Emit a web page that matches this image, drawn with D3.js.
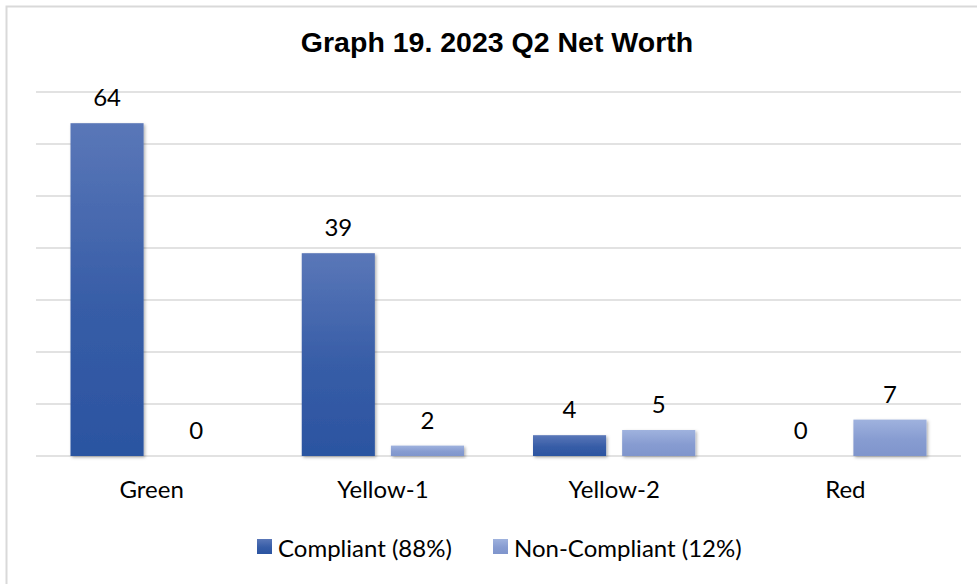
<!DOCTYPE html>
<html>
<head>
<meta charset="utf-8">
<script src="https://cdn.jsdelivr.net/npm/d3@7"></script>
<style>
  body { margin: 0; background: #fff; }
</style>
</head>
<body>
<script>
// chart data
var categories = ["Green", "Yellow-1", "Yellow-2", "Red"];
var seriesNames = ["Compliant (88%)", "Non-Compliant (12%)"];
var compliant = [64, 39, 4, 0];
var nonCompliant = [0, 2, 5, 7];
var yTicks = [0, 10, 20, 30, 40, 50, 60, 70];

var W = 977, H = 584;
var labelFont = "Lato, 'Open Sans', sans-serif";

var svg = d3.select("body").append("svg")
    .attr("width", W)
    .attr("height", H);

var defs = svg.append("defs");
function grad(id, top, bottom) {
    var g = defs.append("linearGradient").attr("id", id)
        .attr("x1", 0).attr("y1", 0).attr("x2", 0).attr("y2", 1);
    g.append("stop").attr("offset", "0%").attr("stop-color", top);
    g.append("stop").attr("offset", "55%").attr("stop-color", d3.interpolateRgb(top, bottom)(0.75));
    g.append("stop").attr("offset", "100%").attr("stop-color", bottom);
}
grad("gC", "#5a77b8", "#2b54a1");
grad("gN", "#9fb2de", "#7f95cc");

var shadow = defs.append("filter").attr("id", "shadow")
    .attr("x", "-20%").attr("y", "-20%").attr("width", "140%").attr("height", "140%");
shadow.append("feDropShadow")
    .attr("dx", 1.5).attr("dy", 1.5).attr("stdDeviation", 1.5)
    .attr("flood-color", "#000").attr("flood-opacity", 0.3);

// outer chart border (cut off on the right and bottom)
svg.append("path")
    .attr("d", "M6.5," + (H + 5) + "V6.5H" + (W + 5))
    .attr("fill", "none")
    .attr("stroke", "#d9d9d9")
    .attr("stroke-width", 2);

// title
svg.append("text")
    .attr("x", 497)
    .attr("y", 52)
    .attr("text-anchor", "middle")
    .attr("font-family", "'Liberation Sans', Arial, sans-serif")
    .attr("font-weight", "bold")
    .attr("font-size", 28.5)
    .attr("fill", "#000")
    .text("Graph 19. 2023 Q2 Net Worth");

// scales
var x = d3.scaleBand().domain(categories).range([36, 961]);
var xs = d3.scaleBand().domain(seriesNames)
    .range([34.5, x.bandwidth() - 34.5])
    .paddingInner(0.18);
var y = d3.scaleLinear().domain([0, 70]).range([456, 92]);

// gridlines
svg.append("g").selectAll("line")
    .data(yTicks)
    .enter().append("line")
    .attr("x1", 36).attr("x2", 961)
    .attr("y1", function (d) { return y(d); })
    .attr("y2", function (d) { return y(d); })
    .attr("stroke", "#d9d9d9")
    .attr("stroke-width", 1.5);

// bars
var rows = categories.map(function (c, i) {
    return { cat: c, vals: [compliant[i], nonCompliant[i]] };
});
var groups = svg.append("g").selectAll("g")
    .data(rows)
    .enter().append("g")
    .attr("transform", function (d) { return "translate(" + x(d.cat) + ",0)"; });

groups.selectAll("rect")
    .data(function (d) { return d.vals.map(function (v, j) { return { s: seriesNames[j], v: v, j: j }; }); })
    .enter().filter(function (d) { return d.v > 0; })
    .append("rect")
    .attr("x", function (d) { return xs(d.s); })
    .attr("y", function (d) { return y(d.v); })
    .attr("width", xs.bandwidth())
    .attr("height", function (d) { return y(0) - y(d.v); })
    .attr("fill", function (d) { return d.j === 0 ? "url(#gC)" : "url(#gN)"; })
    .attr("filter", "url(#shadow)");

// value labels
groups.selectAll("text")
    .data(function (d) { return d.vals.map(function (v, j) { return { s: seriesNames[j], v: v }; }); })
    .enter().append("text")
    .attr("x", function (d) { return xs(d.s) + xs.bandwidth() / 2; })
    .attr("y", function (d) { return y(d.v) - 17; })
    .attr("text-anchor", "middle")
    .attr("font-family", labelFont)
    .attr("font-size", 24)
    .attr("fill", "#000")
    .text(function (d) { return d.v; });

// category axis labels
svg.append("g").selectAll("text")
    .data(categories)
    .enter().append("text")
    .attr("x", function (d) { return x(d) + x.bandwidth() / 2; })
    .attr("y", 498)
    .attr("text-anchor", "middle")
    .attr("font-family", labelFont)
    .attr("font-size", 24)
    .attr("fill", "#000")
    .text(function (d) { return d; });

// legend
var legendX = [257, 493];
var legend = svg.append("g").selectAll("g")
    .data(seriesNames)
    .enter().append("g")
    .attr("transform", function (d, i) { return "translate(" + legendX[i] + ",539)"; });
legend.append("rect")
    .attr("width", 15).attr("height", 15)
    .attr("fill", function (d, i) { return i === 0 ? "url(#gC)" : "url(#gN)"; });
legend.append("text")
    .attr("x", 21)
    .attr("y", 18)
    .attr("font-family", labelFont)
    .attr("font-size", 24)
    .attr("fill", "#000")
    .text(function (d) { return d; });
</script>
</body>
</html>
